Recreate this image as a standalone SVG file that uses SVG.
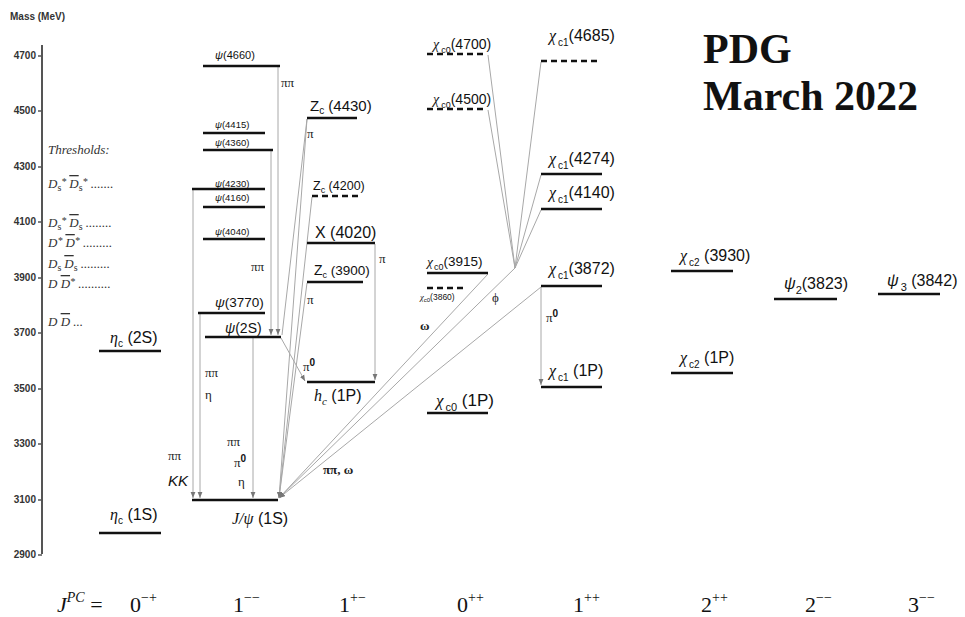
<svg xmlns="http://www.w3.org/2000/svg" width="965" height="617" viewBox="0 0 965 617">
<defs>
<style>
.lv{stroke:#111;stroke-width:2.5;fill:none}
.ds{stroke:#111;stroke-width:2.5;stroke-dasharray:6,4;fill:none}
.cn{stroke:#a8a8a8;stroke-width:1;fill:none}
.ax{stroke:#555;stroke-width:2;fill:none}
.sans{font-family:"Liberation Sans",Arial,sans-serif;fill:#111}
.serif{font-family:"Liberation Serif","Times New Roman",serif;fill:#111}
.tk{font-family:"Liberation Sans",Arial,sans-serif;font-size:10px;font-weight:bold;fill:#333}
.th{font-family:"Liberation Serif","Times New Roman",serif;font-style:italic;font-size:13px;fill:#333}
.it{font-style:italic}
.pi{font-family:"Liberation Serif","Times New Roman",serif;font-size:13px;fill:#222}
.jpc{font-family:"Liberation Serif","Times New Roman",serif;font-size:22px;fill:#111}
.sup{font-size:14px;fill:#111}
</style>
<marker id="ah" viewBox="0 0 10 10" refX="10" refY="5" markerWidth="6" markerHeight="6" orient="auto"><path d="M0,1 L10,5 L0,9 z" fill="#777"/></marker>
</defs>
<rect width="965" height="617" fill="#fff"/>

<g id="axis">
<text class="tk" x="10" y="20">Mass (MeV)</text>
<line class="ax" x1="42" y1="45" x2="42" y2="554"/>
<g stroke="#555" stroke-width="1.5">
<line x1="38" y1="56" x2="42" y2="56"/><line x1="38" y1="111" x2="42" y2="111"/><line x1="38" y1="167" x2="42" y2="167"/><line x1="38" y1="222" x2="42" y2="222"/><line x1="38" y1="278" x2="42" y2="278"/><line x1="38" y1="333" x2="42" y2="333"/><line x1="38" y1="389" x2="42" y2="389"/><line x1="38" y1="444" x2="42" y2="444"/><line x1="38" y1="500" x2="42" y2="500"/><line x1="38" y1="555" x2="42" y2="555"/>
</g>
<g class="tk" text-anchor="end">
<text x="36" y="59">4700</text><text x="36" y="114">4500</text><text x="36" y="170">4300</text><text x="36" y="225">4100</text><text x="36" y="281">3900</text><text x="36" y="336">3700</text><text x="36" y="392">3500</text><text x="36" y="447">3300</text><text x="36" y="503">3100</text><text x="36" y="558">2900</text>
</g>
</g>

<g id="thresholds">
<text class="th" x="48" y="154" font-size="14.5">Thresholds:</text>
<text class="th" x="48" y="188">D<tspan font-size="10" dy="3" font-style="normal">s</tspan><tspan dy="-6" font-size="10">*</tspan><tspan dy="3" dx="3" text-decoration="overline">D</tspan><tspan font-size="10" dy="3" font-style="normal">s</tspan><tspan dy="-6" font-size="10">*</tspan><tspan dy="3"> .......</tspan></text>
<text class="th" x="48" y="227">D<tspan font-size="10" dy="3" font-style="normal">s</tspan><tspan dy="-6" font-size="10">*</tspan><tspan dy="3" dx="3" text-decoration="overline">D</tspan><tspan font-size="10" dy="3" font-style="normal">s</tspan><tspan dy="-3"> ........</tspan></text>
<text class="th" x="48" y="247">D<tspan dy="-3" font-size="10">*</tspan><tspan dy="3" dx="3" text-decoration="overline">D</tspan><tspan dy="-3" font-size="10">*</tspan><tspan dy="3"> .........</tspan></text>
<text class="th" x="48" y="268">D<tspan font-size="10" dy="3" font-style="normal">s</tspan><tspan dy="-3" dx="3" text-decoration="overline">D</tspan><tspan font-size="10" dy="3" font-style="normal">s</tspan><tspan dy="-3"> .........</tspan></text>
<text class="th" x="48" y="288">D <tspan text-decoration="overline">D</tspan><tspan dy="-3" font-size="10">*</tspan><tspan dy="3"> ..........</tspan></text>
<text class="th" x="48" y="326">D <tspan text-decoration="overline">D</tspan>  ...</text>
</g>

<g id="connectors">
<path class="cn" d="M278,67 V335" marker-end="url(#ah)"/>
<path class="cn" d="M271,151 V335" marker-end="url(#ah)"/>
<path class="cn" d="M193,190 V498" marker-end="url(#ah)"/>
<path class="cn" d="M200,314 V498" marker-end="url(#ah)"/>
<path class="cn" d="M253,338 V498" marker-end="url(#ah)"/>
<path class="cn" d="M281,338 L305,381" marker-end="url(#ah)"/>
<path class="cn" d="M375,244 V380" marker-end="url(#ah)"/>
<path class="cn" d="M541,287 V385" marker-end="url(#ah)"/>
<path class="cn" d="M307,119 L282,335"/>
<path class="cn" d="M307,119 L279,498" marker-end="url(#ah)"/>
<path class="cn" d="M312,197 L279,498" marker-end="url(#ah)"/>
<path class="cn" d="M307,283 L279,498" marker-end="url(#ah)"/>
<path class="cn" d="M488,274 L279,498" marker-end="url(#ah)"/>
<path class="cn" d="M515,268 L279,498" marker-end="url(#ah)"/>
<path class="cn" d="M541,287 L279,498" marker-end="url(#ah)"/>
<path class="cn" d="M488,55 L515,268"/>
<path class="cn" d="M488,110 L515,268"/>
<path class="cn" d="M541,62 L515,268"/>
<path class="cn" d="M541,175 L515,268"/>
<path class="cn" d="M541,210 L515,268"/>
</g>

<g id="decay-labels">
<text class="pi" x="281" y="87">ππ</text>
<text class="pi" x="251" y="271">ππ</text>
<text class="pi" x="205" y="377">ππ</text>
<text class="pi" x="205" y="399">η</text>
<text class="pi" x="227" y="446">ππ</text>
<text class="pi" x="234" y="467">π<tspan class="sans" font-size="10" font-weight="bold" dy="-5">0</tspan></text>
<text class="pi" x="238" y="486">η</text>
<text class="pi" x="168" y="460">ππ</text>
<text class="sans it" x="168" y="486" font-size="15">KK</text>
<text class="pi" x="307" y="138">π</text>
<text class="pi" x="379" y="263">π</text>
<text class="pi" x="307" y="304">π</text>
<text class="pi" x="303" y="371">π<tspan class="sans" font-size="10" font-weight="bold" dy="-5">0</tspan></text>
<text class="pi" x="546" y="322">π<tspan class="sans" font-size="10" font-weight="bold" dy="-5">0</tspan></text>
<text class="pi" x="420" y="330" font-weight="bold" font-size="12">ω</text>
<text class="pi" x="492" y="302" font-size="15">ϕ</text>
<text class="pi" x="323" y="474" font-weight="bold" font-size="14">ππ,  ω</text>
</g>

<g id="eta_c2S"><line class="lv" x1="99" y1="351" x2="161" y2="351"/><text class="sans" x="110" y="343" font-size="16"><tspan class="serif it">η</tspan><tspan font-size="10" dy="4">c</tspan><tspan dy="-4"> (2S)</tspan></text></g>
<g id="eta_c1S"><line class="lv" x1="99" y1="533" x2="161" y2="533"/><text class="sans" x="110" y="520" font-size="16"><tspan class="serif it">η</tspan><tspan font-size="10" dy="4">c</tspan><tspan dy="-4"> (1S)</tspan></text></g>

<g id="psi4660"><line class="lv" x1="203" y1="66" x2="280" y2="66"/><text class="sans" x="215" y="59" font-size="11"><tspan class="it">ψ</tspan>(4660)</text></g>
<g id="psi4415"><line class="lv" x1="203" y1="133" x2="265" y2="133"/><text class="sans" x="215" y="128" font-size="9.5"><tspan class="it">ψ</tspan>(4415)</text></g>
<g id="psi4360"><line class="lv" x1="203" y1="150" x2="273" y2="150"/><text class="sans" x="215" y="146" font-size="9.5"><tspan class="it">ψ</tspan>(4360)</text></g>
<g id="psi4230"><line class="lv" x1="192" y1="189" x2="265" y2="189"/><text class="sans" x="215" y="187" font-size="9.5"><tspan class="it">ψ</tspan>(4230)</text></g>
<g id="psi4160"><line class="lv" x1="203" y1="207" x2="265" y2="207"/><text class="sans" x="215" y="201" font-size="9.5"><tspan class="it">ψ</tspan>(4160)</text></g>
<g id="psi4040"><line class="lv" x1="203" y1="239" x2="265" y2="239"/><text class="sans" x="215" y="235" font-size="9.5"><tspan class="it">ψ</tspan>(4040)</text></g>
<g id="psi3770"><line class="lv" x1="198" y1="313" x2="265" y2="313"/><text class="sans" x="215" y="307" font-size="13.5"><tspan class="it">ψ</tspan>(3770)</text></g>
<g id="psi2S"><line class="lv" x1="205" y1="337" x2="281" y2="337"/><text class="sans" x="225" y="333" font-size="14"><tspan class="it">ψ</tspan>(2S)</text></g>
<g id="jpsi"><line class="lv" x1="192" y1="500" x2="278" y2="500"/><text class="sans" x="232" y="524" font-size="16"><tspan class="serif it">J/ψ</tspan>  (1S)</text></g>

<g id="zc4430"><line class="lv" x1="307" y1="118" x2="357" y2="118"/><text class="sans" x="310" y="111" font-size="15">Z<tspan font-size="10" dy="3">c</tspan><tspan dy="-3">  (4430)</tspan></text></g>
<g id="zc4200"><line class="ds" x1="312" y1="196" x2="362" y2="196"/><text class="sans" x="313" y="190" font-size="12.5">Z<tspan font-size="9" dy="3">c</tspan><tspan dy="-3"> (4200)</tspan></text></g>
<g id="x4020"><line class="lv" x1="307" y1="243" x2="375" y2="243"/><text class="sans" x="315" y="238" font-size="16">X (4020)</text></g>
<g id="zc3900"><line class="lv" x1="307" y1="282" x2="363" y2="282"/><text class="sans" x="314" y="275" font-size="14">Z<tspan font-size="9" dy="3">c</tspan><tspan dy="-3" font-size="13.5"> (3900)</tspan></text></g>
<g id="hc1P"><line class="lv" x1="307" y1="382" x2="375" y2="382"/><text class="sans" x="314" y="401" font-size="16"><tspan class="serif it">h</tspan><tspan class="serif it" font-size="11" dy="4">c</tspan><tspan dy="-4">  (1P)</tspan></text></g>

<g id="chic0_4700"><line class="ds" x1="427" y1="54" x2="486" y2="54"/><text class="sans" x="433" y="49" font-size="14"><tspan class="serif it">χ</tspan><tspan font-size="9" dx="2" dy="4">c0</tspan><tspan dy="-4">(4700)</tspan></text></g>
<g id="chic0_4500"><line class="ds" x1="427" y1="109" x2="486" y2="109"/><text class="sans" x="433" y="104" font-size="14"><tspan class="serif it">χ</tspan><tspan font-size="9" dx="2" dy="4">c0</tspan><tspan dy="-4">(4500)</tspan></text></g>
<g id="chic0_3915"><line class="lv" x1="427" y1="273" x2="488" y2="273"/><text class="sans" x="427" y="266" font-size="13.5"><tspan class="serif it">χ</tspan><tspan font-size="9" dx="1" dy="4">c0</tspan><tspan dy="-4">(3915)</tspan></text></g>
<g id="chic0_3860"><line class="ds" x1="427" y1="288" x2="463" y2="288" stroke-dasharray="5,4"/><text class="sans" x="420" y="300" font-size="8.5" fill="#333"><tspan class="serif it">χ</tspan><tspan font-size="6" dy="2">c0</tspan><tspan dy="-2">(3860)</tspan></text></g>
<g id="chic0_1P"><line class="lv" x1="427" y1="413" x2="488" y2="413"/><text class="sans" x="436" y="406" font-size="17"><tspan class="serif it">χ</tspan><tspan font-size="11" dx="2" dy="5">c0</tspan><tspan dy="-5">  (1P)</tspan></text></g>

<g id="chic1_4685"><line class="ds" x1="541" y1="61" x2="600" y2="61"/><text class="sans" x="549" y="41" font-size="16"><tspan class="serif it">χ</tspan><tspan font-size="10" dx="2" dy="5">c1</tspan><tspan dy="-5">(4685)</tspan></text></g>
<g id="chic1_4274"><line class="lv" x1="541" y1="174" x2="602" y2="174"/><text class="sans" x="549" y="164" font-size="16"><tspan class="serif it">χ</tspan><tspan font-size="10" dx="2" dy="5">c1</tspan><tspan dy="-5">(4274)</tspan></text></g>
<g id="chic1_4140"><line class="lv" x1="541" y1="209" x2="602" y2="209"/><text class="sans" x="549" y="198" font-size="16"><tspan class="serif it">χ</tspan><tspan font-size="10" dx="2" dy="5">c1</tspan><tspan dy="-5">(4140)</tspan></text></g>
<g id="chic1_3872"><line class="lv" x1="541" y1="286" x2="602" y2="286"/><text class="sans" x="549" y="274" font-size="16"><tspan class="serif it">χ</tspan><tspan font-size="10" dx="2" dy="5">c1</tspan><tspan dy="-5">(3872)</tspan></text></g>
<g id="chic1_1P"><line class="lv" x1="541" y1="387" x2="602" y2="387"/><text class="sans" x="549" y="376" font-size="16"><tspan class="serif it">χ</tspan><tspan font-size="10" dx="2" dy="5">c1</tspan><tspan dy="-5"> (1P)</tspan></text></g>

<g id="chic2_3930"><line class="lv" x1="671" y1="271" x2="733" y2="271"/><text class="sans" x="680" y="261" font-size="16"><tspan class="serif it">χ</tspan><tspan font-size="10" dx="2" dy="5">c2</tspan><tspan dy="-5"> (3930)</tspan></text></g>
<g id="chic2_1P"><line class="lv" x1="671" y1="373" x2="733" y2="373"/><text class="sans" x="680" y="363" font-size="16"><tspan class="serif it">χ</tspan><tspan font-size="10" dx="2" dy="5">c2</tspan><tspan dy="-5"> (1P)</tspan></text></g>
<g id="psi2_3823"><line class="lv" x1="774" y1="299" x2="837" y2="299"/><text class="sans" x="784" y="289" font-size="16"><tspan class="it">ψ</tspan><tspan font-size="11" dy="5">2</tspan><tspan dy="-5">(3823)</tspan></text></g>
<g id="psi3_3842"><line class="lv" x1="878" y1="294" x2="940" y2="294"/><text class="sans" x="887" y="286" font-size="16"><tspan class="it">ψ</tspan><tspan font-size="11" dx="2" dy="5">3</tspan><tspan dy="-5"> (3842)</tspan></text></g>

<g id="title"><text class="serif" x="703" y="63" font-size="42" font-weight="bold">PDG</text><text class="serif" x="703" y="110" font-size="42" font-weight="bold">March 2022</text></g>

<g id="jpc-row" class="jpc">
<text x="57" y="612"><tspan class="it">J</tspan><tspan class="it sup" dy="-10">PC</tspan><tspan dy="10"> =</tspan></text>
<text x="130" y="612">0<tspan class="sup" dy="-10">−+</tspan></text>
<text x="233" y="612">1<tspan class="sup" dy="-10">−−</tspan></text>
<text x="339" y="612">1<tspan class="sup" dy="-10">+−</tspan></text>
<text x="457" y="612">0<tspan class="sup" dy="-10">++</tspan></text>
<text x="573" y="612">1<tspan class="sup" dy="-10">++</tspan></text>
<text x="701" y="612">2<tspan class="sup" dy="-10">++</tspan></text>
<text x="805" y="612">2<tspan class="sup" dy="-10">−−</tspan></text>
<text x="908" y="612">3<tspan class="sup" dy="-10">−−</tspan></text>
</g>
</svg>
